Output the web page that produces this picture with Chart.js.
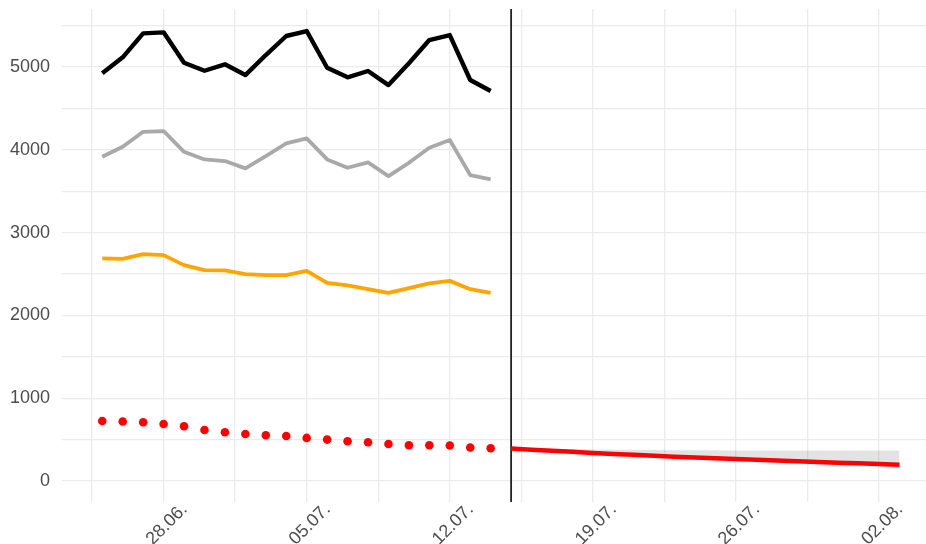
<!DOCTYPE html>
<html>
<head>
<meta charset="utf-8">
<script src="https://cdn.jsdelivr.net/npm/chart.js@4.4.1/dist/chart.umd.min.js"></script>
<style>
  html, body { margin: 0; padding: 0; background: #ffffff; overflow: hidden; }
  #wrap { width: 926px; height: 544px; overflow: hidden; }
  #chart { display: block; }
</style>
</head>
<body>
<div id="wrap"><canvas id="chart" width="931" height="544"></canvas></div>
<script>
// Observed daily values (25.06. – 14.07.)
const observedDates = ['25.06.', '26.06.', '27.06.', '28.06.', '29.06.', '30.06.', '01.07.', '02.07.', '03.07.', '04.07.',
                       '05.07.', '06.07.', '07.07.', '08.07.', '09.07.', '10.07.', '11.07.', '12.07.', '13.07.', '14.07.'];
const seriesBlack  = [4924, 5117, 5407, 5419, 5052, 4955, 5033, 4903, 5145, 5375, 5435, 4992, 4876, 4952, 4782, 5045, 5326, 5386, 4843, 4710];
const seriesGrey   = [3916, 4037, 4218, 4227, 3976, 3884, 3864, 3776, 3924, 4078, 4138, 3884, 3783, 3848, 3683, 3843, 4025, 4118, 3695, 3643];
const seriesOrange = [2688, 2683, 2740, 2728, 2607, 2547, 2543, 2498, 2486, 2486, 2538, 2393, 2362, 2317, 2272, 2329, 2386, 2417, 2317, 2272];
const seriesRed    = [725, 718, 709, 689, 661, 616, 589, 568, 552, 544, 520, 500, 480, 467, 447, 431, 431, 428, 404, 395];

// Projection (15.07. – 03.08.) with its uncertainty band
const forecastDates = ['15.07.', '16.07.', '17.07.', '18.07.', '19.07.', '20.07.', '21.07.', '22.07.', '23.07.', '24.07.',
                       '25.07.', '26.07.', '27.07.', '28.07.', '29.07.', '30.07.', '31.07.', '01.08.', '02.08.', '03.08.'];
const forecastMean  = [392, 378, 365, 352, 339, 327, 316, 305, 294, 284, 274, 264, 255, 246, 237, 229, 221, 213, 205, 197];
const forecastLower = [392, 376, 361, 347, 333, 319, 306, 294, 282, 270, 258, 247, 236, 225, 215, 204, 194, 184, 174, 160];
const forecastUpper = [392, 390, 387, 384, 381, 378, 376, 374, 372, 371, 370, 369, 368, 368, 367, 367, 367, 367, 367, 367];

// Axis labelling
const cutoffDate = '15.07.';
const xTickAnchor = '28.06.';
const yTickValues = [0, 500, 1000, 1500, 2000, 2500, 3000, 3500, 4000, 4500, 5000, 5500];
const YEAR = 2020;

const DAY_MS = 86400000;
function toDay(label) {
  const [d, m] = label.split('.');
  return Date.UTC(YEAR, Number(m) - 1, Number(d)) / DAY_MS;
}
function fmtDay(day) {
  const dt = new Date(Math.round(day) * DAY_MS);
  const dd = String(dt.getUTCDate()).padStart(2, '0');
  const mm = String(dt.getUTCMonth() + 1).padStart(2, '0');
  return dd + '.' + mm + '.';
}
const pts = (dates, vals) => dates.map((d, i) => ({ x: toDay(d), y: vals[i] }));

const anchorDay = toDay(xTickAnchor);
const xMin = toDay(observedDates[0]) - 1.97;
const xMax = toDay(forecastDates[forecastDates.length - 1]) + 1.33;

const gridColor = '#ebebeb';
const textColor = '#4d4d4d';
const tickFont = { family: '"Liberation Sans", Arial, sans-serif', size: 18 };

const cutoffLine = {
  id: 'cutoffLine',
  beforeDatasetsDraw(chart) {
    const { ctx, chartArea, scales } = chart;
    const x = scales.x.getPixelForValue(toDay(cutoffDate));
    ctx.save();
    ctx.strokeStyle = '#222222';
    ctx.lineWidth = 1.8;
    ctx.beginPath();
    ctx.moveTo(x, chartArea.top);
    ctx.lineTo(x, chartArea.bottom);
    ctx.stroke();
    ctx.restore();
  }
};

new Chart(document.getElementById('chart'), {
  type: 'line',
  data: {
    datasets: [
      { label: 'lower', data: pts(forecastDates, forecastLower), borderWidth: 0, pointRadius: 0, fill: false, order: 10 },
      { label: 'upper', data: pts(forecastDates, forecastUpper), borderWidth: 0, pointRadius: 0,
        fill: '-1', backgroundColor: 'rgba(0,0,0,0.11)', order: 9 },
      { label: 'black', data: pts(observedDates, seriesBlack), borderColor: '#000000', borderWidth: 4.4, pointRadius: 0, order: 1 },
      { label: 'grey', data: pts(observedDates, seriesGrey), borderColor: '#a9a9a9', borderWidth: 3.8, pointRadius: 0, order: 2 },
      { label: 'orange', data: pts(observedDates, seriesOrange), borderColor: '#ffa500', borderWidth: 3.8, pointRadius: 0, order: 3 },
      { label: 'red', data: pts(observedDates, seriesRed), showLine: false, pointRadius: 4.3, pointBorderWidth: 0,
        pointBackgroundColor: '#ff0000', pointBorderColor: '#ff0000', order: 4 },
      { label: 'forecast', data: pts(forecastDates, forecastMean), borderColor: '#ff0000', borderWidth: 4.5, pointRadius: 0, order: 5 }
    ]
  },
  options: {
    responsive: false,
    animation: false,
    devicePixelRatio: 1,
    layout: { padding: { top: 9, right: 0, left: 0, bottom: 0 } },
    plugins: { legend: { display: false }, tooltip: { enabled: false } },
    elements: { line: { tension: 0, borderJoinStyle: 'round', borderCapStyle: 'butt' } },
    scales: {
      x: {
        type: 'linear',
        min: xMin,
        max: xMax,
        border: { display: false },
        grid: { color: gridColor, lineWidth: 1.3, drawTicks: false },
        afterBuildTicks(scale) {
          const ticks = [];
          for (let v = anchorDay - 3.5; v <= xMax; v += 3.5) ticks.push({ value: v });
          scale.ticks = ticks;
        },
        afterFit(scale) {
          scale.height = 42;
          scale.paddingLeft = 0;
          scale.paddingRight = 0;
        },
        ticks: {
          autoSkip: false,
          minRotation: 45,
          maxRotation: 45,
          padding: -3,
          labelOffset: 21,
          color: textColor,
          font: tickFont,
          callback(value) {
            const diff = value - anchorDay;
            return Math.abs(diff / 7 - Math.round(diff / 7)) < 1e-6 ? fmtDay(value) : '';
          }
        }
      },
      y: {
        type: 'linear',
        min: -254,
        max: 5701,
        border: { display: false },
        grid: { color: gridColor, lineWidth: 1.3, drawTicks: false },
        afterBuildTicks(scale) { scale.ticks = yTickValues.map(v => ({ value: v })); },
        afterFit(scale) {
          scale.width = 62;
          scale.paddingTop = 0;
          scale.paddingBottom = 0;
        },
        ticks: {
          autoSkip: false,
          padding: 12,
          color: textColor,
          font: tickFont,
          callback(value) { return value % 1000 === 0 ? String(value) : ''; }
        }
      }
    }
  },
  plugins: [cutoffLine]
});
</script>
</body>
</html>
